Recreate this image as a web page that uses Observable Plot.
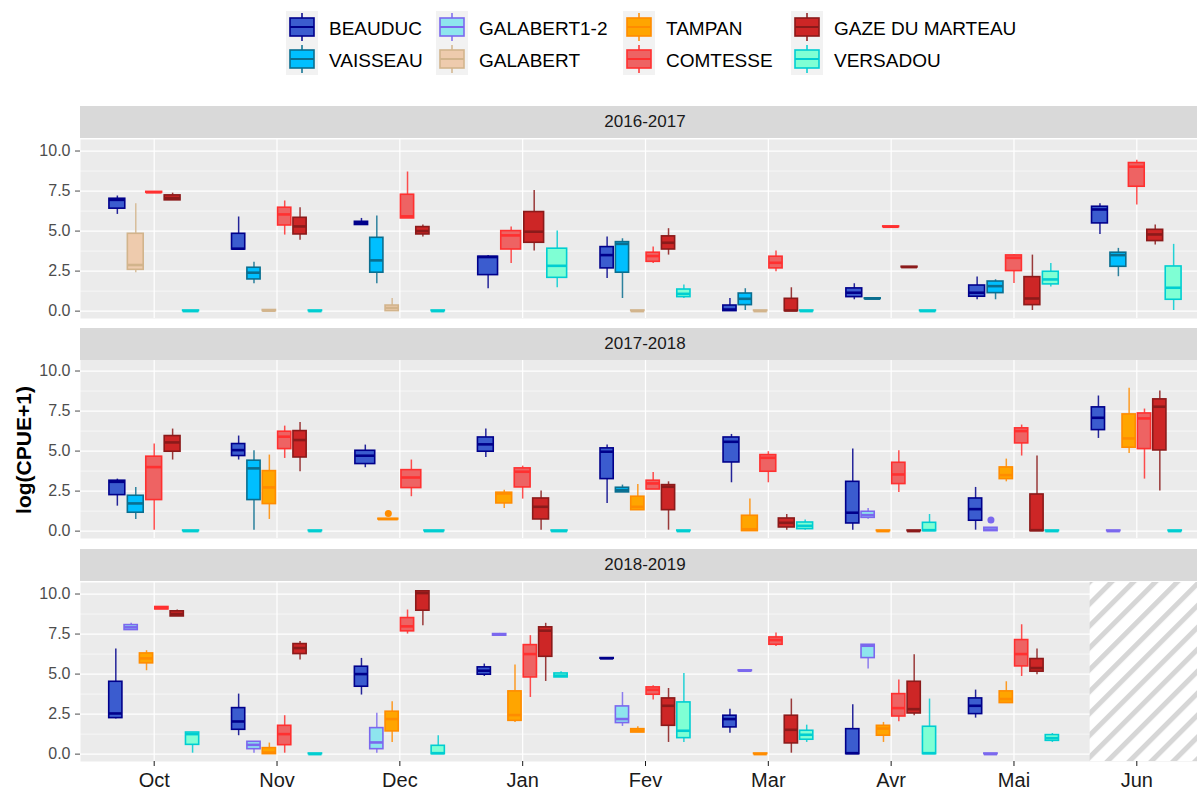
<!DOCTYPE html>
<html><head><meta charset="utf-8">
<script src="https://cdn.jsdelivr.net/npm/d3@7"></script>
<script src="https://cdn.jsdelivr.net/npm/@observablehq/plot@0.6"></script>
<style>
body{margin:0;background:#fff;font-family:"Liberation Sans",Arial,sans-serif;}
#wrap{position:relative;width:1197px;height:792px;overflow:hidden;background:#fff;}
.strip{position:absolute;left:80px;width:1130px;height:32px;background:#D9D9D9;color:#1A1A1A;font-size:17px;line-height:32px;text-align:center;}
.panel{position:absolute;left:0;}
#ytitle{position:absolute;left:24px;top:450px;transform:translate(-50%,-50%) rotate(-90deg);font-weight:bold;font-size:21px;white-space:nowrap;color:#000;}
</style></head><body><div id="wrap"><div id="ytitle">log(CPUE+1)</div></div>
<script>
// ---------- data ----------
const months = ["Oct","Nov","Dec","Jan","Fev","Mar","Avr","Mai","Jun"];
const years = ["2016-2017","2017-2018","2018-2019"];
const sites = ["BEAUDUC","VAISSEAU","GALABERT1-2","GALABERT","TAMPAN","COMTESSE","GAZE DU MARTEAU","VERSADOU"];
const fills   = ["#3B5CCF","#00BFFF","#8EE5EE","#EECBAD","#FFA500","#EE6363","#CD2626","#7FFFD4"];
const strokes = ["#00008B","#0A6E8F","#7B68EE","#D2B48C","#FF8C00","#FF3030","#8B1A1A","#00CED1"];
const yTicks = [0, 2.5, 5, 7.5, 10];
const yMinor = [1.25, 3.75, 6.25, 8.75];

// [month, site, ymin, q1, median, q3, ymax]
const stats2016 = [
  ["Oct","BEAUDUC",6.04,6.40,6.95,7.02,7.19],
  ["Oct","GALABERT",2.40,2.58,2.88,4.83,6.71],
  ["Oct","COMTESSE",7.38,7.40,7.42,7.45,7.45],
  ["Oct","GAZE DU MARTEAU",6.92,6.92,7.06,7.23,7.37],
  ["Oct","VERSADOU",0,0,0,0.04,0.04],
  ["Nov","BEAUDUC",3.85,3.85,3.9,4.83,5.88],
  ["Nov","VAISSEAU",1.71,1.98,2.40,2.71,3.06],
  ["Nov","GALABERT",0,0,0.03,0.07,0.07],
  ["Nov","COMTESSE",4.75,5.35,6.04,6.46,6.88],
  ["Nov","GAZE DU MARTEAU",4.42,4.79,5.29,5.83,6.46],
  ["Nov","VERSADOU",0,0,0,0.04,0.04],
  ["Dec","BEAUDUC",5.38,5.38,5.5,5.58,5.79],
  ["Dec","VAISSEAU",1.71,2.40,3.17,4.58,5.94],
  ["Dec","GALABERT",0,0,0.2,0.35,0.79],
  ["Dec","COMTESSE",5.79,5.79,5.92,7.27,8.69],
  ["Dec","GAZE DU MARTEAU",4.63,4.79,5.0,5.25,5.38],
  ["Dec","VERSADOU",0,0,0,0.04,0.04],
  ["Jan","BEAUDUC",1.40,2.25,3.38,3.40,3.48],
  ["Jan","COMTESSE",2.98,3.85,4.73,5.0,5.25],
  ["Jan","GAZE DU MARTEAU",3.75,4.27,4.96,6.19,7.54],
  ["Jan","VERSADOU",1.46,2.08,2.83,3.90,5.0],
  ["Fev","BEAUDUC",2.04,2.67,3.5,4.0,4.63],
  ["Fev","VAISSEAU",0.79,2.40,4.2,4.31,4.52],
  ["Fev","GALABERT",0,0,0,0.04,0.04],
  ["Fev","COMTESSE",2.98,3.08,3.44,3.65,4.0],
  ["Fev","GAZE DU MARTEAU",3.5,3.85,4.27,4.67,5.15],
  ["Fev","VERSADOU",0.79,0.875,1.08,1.35,1.63],
  ["Mar","BEAUDUC",0,0,0.1,0.35,0.79],
  ["Mar","VAISSEAU",0.04,0.375,0.77,1.10,1.40],
  ["Mar","GALABERT",0,0,0,0.04,0.04],
  ["Mar","COMTESSE",2.46,2.67,3.02,3.40,3.75],
  ["Mar","GAZE DU MARTEAU",0,0,0.04,0.77,1.46],
  ["Mar","VERSADOU",0,0,0,0.04,0.04],
  ["Avr","BEAUDUC",0.71,0.875,1.15,1.42,1.71],
  ["Avr","VAISSEAU",0.76,0.76,0.78,0.80,0.80],
  ["Avr","COMTESSE",5.25,5.25,5.27,5.29,5.29],
  ["Avr","GAZE DU MARTEAU",2.73,2.73,2.75,2.77,2.77],
  ["Avr","VERSADOU",0,0,0,0.04,0.04],
  ["Mai","BEAUDUC",0.71,0.9,1.15,1.60,2.125],
  ["Mai","VAISSEAU",0.71,1.125,1.56,1.85,1.96],
  ["Mai","COMTESSE",1.73,2.5,3.33,3.48,3.54],
  ["Mai","GAZE DU MARTEAU",0.04,0.375,0.79,2.125,3.5],
  ["Mai","VERSADOU",1.5,1.67,1.98,2.46,2.98],
  ["Jun","BEAUDUC",4.79,5.48,6.35,6.52,6.71],
  ["Jun","VAISSEAU",2.15,2.77,3.5,3.65,3.92],
  ["Jun","COMTESSE",6.625,7.77,9.02,9.25,9.42],
  ["Jun","GAZE DU MARTEAU",4.125,4.375,4.79,5.08,5.375],
  ["Jun","VERSADOU",0.04,0.71,1.46,2.79,4.17]
];
const stats2017 = [
  ["Oct","BEAUDUC",1.56,2.25,3.08,3.15,3.25],
  ["Oct","VAISSEAU",0.73,1.15,1.73,2.21,2.73],
  ["Oct","COMTESSE",0.06,1.94,4.0,4.65,5.44],
  ["Oct","GAZE DU MARTEAU",4.44,4.96,5.54,5.94,6.375],
  ["Oct","VERSADOU",0,0,0,0.04,0.04],
  ["Nov","BEAUDUC",4.44,4.69,5.06,5.44,5.94],
  ["Nov","VAISSEAU",0.06,1.94,3.92,4.40,5.02],
  ["Nov","TAMPAN",0.73,1.69,2.73,3.75,4.75],
  ["Nov","COMTESSE",4.54,5.125,5.9,6.21,6.56],
  ["Nov","GAZE DU MARTEAU",3.71,4.6,5.69,6.25,6.79],
  ["Nov","VERSADOU",0,0,0,0.04,0.04],
  ["Dec","BEAUDUC",3.96,4.19,4.71,5.02,5.375],
  ["Dec","TAMPAN",0.73,0.73,0.75,0.77,0.77],
  ["Dec","COMTESSE",2.15,2.69,3.35,3.81,4.44],
  ["Dec","VERSADOU",0,0,0,0.04,0.04],
  ["Jan","BEAUDUC",4.6,4.96,5.42,5.85,6.375],
  ["Jan","TAMPAN",1.42,1.73,2.35,2.40,2.56],
  ["Jan","COMTESSE",2.0,2.73,3.71,3.92,4.06],
  ["Jan","GAZE DU MARTEAU",0.06,0.73,1.52,2.04,2.5],
  ["Jan","VERSADOU",0,0,0,0.04,0.04],
  ["Fev","BEAUDUC",1.73,3.25,4.96,5.17,5.375],
  ["Fev","VAISSEAU",2.42,2.42,2.56,2.71,2.875],
  ["Fev","TAMPAN",1.31,1.31,1.52,2.15,2.92],
  ["Fev","COMTESSE",2.6,2.6,2.98,3.15,3.67],
  ["Fev","GAZE DU MARTEAU",0.06,1.31,2.77,2.875,3.08],
  ["Fev","VERSADOU",0,0,0,0.04,0.04],
  ["Mar","BEAUDUC",3.02,4.29,5.58,5.85,6.04],
  ["Mar","TAMPAN",0,0,0.12,0.96,2.0],
  ["Mar","COMTESSE",3.02,3.71,4.58,4.75,4.96],
  ["Mar","GAZE DU MARTEAU",0.06,0.23,0.52,0.79,1.04],
  ["Mar","VERSADOU",0.06,0.125,0.33,0.54,0.69],
  ["Avr","BEAUDUC",0.06,0.48,1.15,3.08,5.125],
  ["Avr","GALABERT1-2",0.75,0.83,1.0,1.21,1.42],
  ["Avr","TAMPAN",0,0,0,0.04,0.04],
  ["Avr","COMTESSE",2.42,2.94,3.54,4.27,5.02],
  ["Avr","GAZE DU MARTEAU",0,0,0,0.04,0.04],
  ["Avr","VERSADOU",0,0,0.06,0.52,1.04],
  ["Mai","BEAUDUC",0.06,0.65,1.375,2.04,2.73],
  ["Mai","GALABERT1-2",0,0,0.1,0.21,0.21],
  ["Mai","TAMPAN",3.08,3.25,3.5,3.98,4.5],
  ["Mai","COMTESSE",4.69,5.48,6.25,6.42,6.625],
  ["Mai","GAZE DU MARTEAU",0,0,0.06,2.29,4.69],
  ["Mai","VERSADOU",0,0,0,0.04,0.04],
  ["Jun","BEAUDUC",5.79,6.31,7.08,7.73,8.44],
  ["Jun","GALABERT1-2",0,0,0,0.04,0.04],
  ["Jun","TAMPAN",4.85,5.21,5.79,7.29,8.92],
  ["Jun","COMTESSE",3.25,5.125,7.04,7.35,7.625],
  ["Jun","GAZE DU MARTEAU",2.5,5.04,7.77,8.23,8.75],
  ["Jun","VERSADOU",0,0,0,0.04,0.04]
];
const stats2018 = [
  ["Oct","BEAUDUC",2.19,2.25,2.54,4.52,6.56],
  ["Oct","GALABERT1-2",7.75,7.75,7.92,8.06,8.17],
  ["Oct","TAMPAN",5.21,5.67,5.98,6.29,6.46],
  ["Oct","COMTESSE",9.04,9.04,9.125,9.19,9.19],
  ["Oct","GAZE DU MARTEAU",8.6,8.6,8.75,8.92,9.0],
  ["Oct","VERSADOU",0.06,0.58,1.25,1.35,1.35],
  ["Nov","BEAUDUC",1.15,1.52,2.04,2.875,3.75],
  ["Nov","GALABERT1-2",0.06,0.31,0.58,0.77,0.77],
  ["Nov","TAMPAN",0,0,0.1,0.375,0.69],
  ["Nov","COMTESSE",0.06,0.56,1.25,1.77,2.4],
  ["Nov","GAZE DU MARTEAU",5.875,6.25,6.625,6.875,7.04],
  ["Nov","VERSADOU",0,0,0,0.04,0.04],
  ["Dec","BEAUDUC",3.69,4.21,5.0,5.46,5.98],
  ["Dec","GALABERT1-2",0.06,0.31,0.73,1.625,2.56],
  ["Dec","TAMPAN",0.73,1.42,2.19,2.65,3.27],
  ["Dec","COMTESSE",7.5,7.67,7.98,8.5,9.0],
  ["Dec","GAZE DU MARTEAU",8.02,8.96,10.06,10.17,10.17],
  ["Dec","VERSADOU",0,0,0.06,0.52,1.15],
  ["Jan","BEAUDUC",4.85,4.96,5.21,5.42,5.625],
  ["Jan","GALABERT1-2",7.35,7.40,7.46,7.50,7.54],
  ["Jan","TAMPAN",1.98,2.08,2.44,3.92,5.56],
  ["Jan","COMTESSE",3.54,4.79,6.25,6.81,7.4],
  ["Jan","GAZE DU MARTEAU",4.54,6.08,7.71,7.92,8.17],
  ["Jan","VERSADOU",4.79,4.79,4.9,5.04,5.15],
  ["Fev","BEAUDUC",5.96,5.96,5.98,6.0,6.0],
  ["Fev","GALABERT1-2",1.73,1.94,2.19,2.98,3.85],
  ["Fev","TAMPAN",1.35,1.35,1.46,1.56,1.71],
  ["Fev","COMTESSE",3.375,3.71,4.02,4.17,4.27],
  ["Fev","GAZE DU MARTEAU",0.73,1.77,3.02,3.48,4.1],
  ["Fev","VERSADOU",0.73,1.0,1.46,3.23,5.04],
  ["Mar","BEAUDUC",1.31,1.67,2.19,2.40,2.81],
  ["Mar","GALABERT1-2",5.19,5.19,5.21,5.23,5.23],
  ["Mar","TAMPAN",0,0,0,0.04,0.04],
  ["Mar","COMTESSE",6.73,6.83,7.125,7.29,7.56],
  ["Mar","GAZE DU MARTEAU",0.06,0.67,1.52,2.40,3.44],
  ["Mar","VERSADOU",0.73,0.9,1.21,1.46,1.81],
  ["Avr","BEAUDUC",0,0,0.06,1.56,3.08],
  ["Avr","GALABERT1-2",5.31,6.0,6.77,6.83,6.83],
  ["Avr","TAMPAN",0.73,1.15,1.6,1.77,1.98],
  ["Avr","COMTESSE",2.02,2.35,2.875,3.75,4.625],
  ["Avr","GAZE DU MARTEAU",2.4,2.54,2.81,4.52,6.21],
  ["Avr","VERSADOU",0,0,0.06,1.71,3.44],
  ["Mai","BEAUDUC",2.25,2.5,3.02,3.48,4.0],
  ["Mai","GALABERT1-2",0,0,0,0.04,0.04],
  ["Mai","TAMPAN",3.19,3.19,3.44,3.92,4.52],
  ["Mai","COMTESSE",4.85,5.48,6.25,7.125,8.08],
  ["Mai","GAZE DU MARTEAU",4.96,5.15,5.375,5.94,6.56],
  ["Mai","VERSADOU",0.73,0.83,1.0,1.19,1.29]
];
// [year, month, site, value]
const outliers = [
  ["2017-2018","Dec","TAMPAN",1.10],
  ["2017-2018","Mai","GALABERT1-2",0.69]
];
// month with no sampling (hatched)
const missing = [["2018-2019","Jun"]];

// ---------- layout helpers ----------
const xDomain = [-0.6, 8.6];
const yDomain = [-0.46, 10.72];
const dodgeWidth = 0.75, boxFrac = 0.86;
const statsByYear = [stats2016, stats2017, stats2018];

function layout(year, rows) {
  const out = [];
  months.forEach((m, mi) => {
    const present = rows.filter(r => r[0] === m)
      .sort((a, b) => sites.indexOf(a[1]) - sites.indexOf(b[1]));
    const n = present.length, slot = dodgeWidth / n;
    present.forEach((r, i) => {
      const si = sites.indexOf(r[1]);
      const x = mi - dodgeWidth / 2 + slot * (i + 0.5);
      out.push({year, month: m, site: r[1], ymin: r[2], q1: r[3], med: r[4], q3: r[5], ymax: r[6],
        x, x1: x - slot * boxFrac / 2, x2: x + slot * boxFrac / 2, fill: fills[si], stroke: strokes[si]});
    });
  });
  return out;
}

const wrap = d3.select("#wrap");
const panelTops = [138.7, 359.3, 581.7];
const stripTops = [106, 327.7, 549.3];
const panelH = 179;

years.forEach((year, yi) => {
  const boxes = layout(year, statsByYear[yi]);
  const outs = outliers.filter(o => o[0] === year).map(o => {
    const b = boxes.find(b => b.month === o[1] && b.site === o[2]);
    return {x: b.x, y: o[3], stroke: b.stroke};
  });
  const hatch = missing.filter(h => h[0] === year).map(h => ({x1: months.indexOf(h[1]) - 0.38, x2: xDomain[1]}));
  const bottom = yi === years.length - 1;
  const mt = 10, mb = bottom ? 34 : 10;
  const marks = [
    Plot.frame({fill: "#EBEBEB", stroke: "none"}),
    Plot.ruleY(yMinor, {stroke: "#FFFFFF", strokeWidth: 0.6}),
    Plot.ruleY(yTicks, {stroke: "#FFFFFF", strokeWidth: 1.2}),
    Plot.ruleX(d3.range(months.length), {stroke: "#FFFFFF", strokeWidth: 1.2}),
    Plot.rect(hatch, {x1: "x1", x2: "x2", fill: "url(#hatch)"}),
    Plot.ruleX(boxes, {x: "x", y1: "ymin", y2: "q1", stroke: "stroke", strokeWidth: 1.5, strokeOpacity: 0.85}),
    Plot.ruleX(boxes, {x: "x", y1: "q3", y2: "ymax", stroke: "stroke", strokeWidth: 1.5, strokeOpacity: 0.85}),
    Plot.rect(boxes, {x1: "x1", x2: "x2", y1: "q1", y2: "q3", fill: "fill", stroke: "stroke", strokeWidth: 1.6}),
    Plot.ruleY(boxes, {x1: "x1", x2: "x2", y: "med", stroke: "stroke", strokeWidth: 2.6}),
    Plot.dot(outs, {x: "x", y: "y", r: 3.5, fill: "stroke", stroke: "none"}),
    Plot.axisY(yTicks, {tickFormat: d3.format(".1f"), tickSize: 5, tickPadding: 5, fontSize: 16, color: "#4D4D4D", label: null})
  ];
  if (bottom) marks.push(Plot.axisX(d3.range(months.length), {tickFormat: i => months[i], tickSize: 5, tickPadding: 6, fontSize: 20, color: "#1A1A1A", label: null}));
  const chart = Plot.plot({
    width: 1214, height: panelH + mt + mb,
    marginLeft: 80, marginRight: 4, marginTop: mt, marginBottom: mb,
    x: {type: "linear", domain: xDomain, axis: null},
    y: {type: "linear", domain: yDomain, axis: null},
    color: {type: "identity"},
    style: {fontFamily: "'Liberation Sans', Arial, sans-serif", background: "transparent", overflow: "visible"},
    marks
  });
  const svg = d3.select(chart);
  const defs = svg.insert("defs", ":first-child");
  const pat = defs.append("pattern").attr("id", "hatch").attr("patternUnits", "userSpaceOnUse")
    .attr("width", 15.5).attr("height", 15.5).attr("patternTransform", "rotate(45)");
  pat.append("rect").attr("width", 15.5).attr("height", 15.5).attr("fill", "#FFFFFF");
  pat.append("rect").attr("width", 5).attr("height", 15.5).attr("fill", "#D6D6D6");
  wrap.append(() => chart).attr("class", "panel").style("top", (panelTops[yi] - mt) + "px");
  wrap.append("div").attr("class", "strip").style("top", stripTops[yi] + "px").text(year);
});

// ---------- legend ----------
const legendX = [286, 436, 623, 791];
const legendY = [11, 43];
const leg = wrap.append("svg").attr("width", 1197).attr("height", 90)
  .style("position", "absolute").style("left", "0px").style("top", "0px");
sites.forEach((s, i) => {
  const col = Math.floor(i / 2), row = i % 2;
  const kx = legendX[col], ky = legendY[row];
  const g = leg.append("g");
  g.append("rect").attr("x", kx).attr("y", ky).attr("width", 32).attr("height", 32).attr("fill", "#F2F2F2");
  g.append("line").attr("x1", kx + 16).attr("x2", kx + 16).attr("y1", ky + 2).attr("y2", ky + 30)
    .attr("stroke", strokes[i]).attr("stroke-width", 1.5);
  g.append("rect").attr("x", kx + 4).attr("y", ky + 7).attr("width", 24).attr("height", 18)
    .attr("fill", fills[i]).attr("stroke", strokes[i]).attr("stroke-width", 1.6);
  g.append("line").attr("x1", kx + 4).attr("x2", kx + 28).attr("y1", ky + 16).attr("y2", ky + 16)
    .attr("stroke", strokes[i]).attr("stroke-width", 2);
  g.append("text").attr("x", kx + 43).attr("y", ky + 23.5).attr("font-size", 19)
    .attr("font-family", "'Liberation Sans', Arial, sans-serif").attr("fill", "#000000").text(s);
});
</script></body></html>
